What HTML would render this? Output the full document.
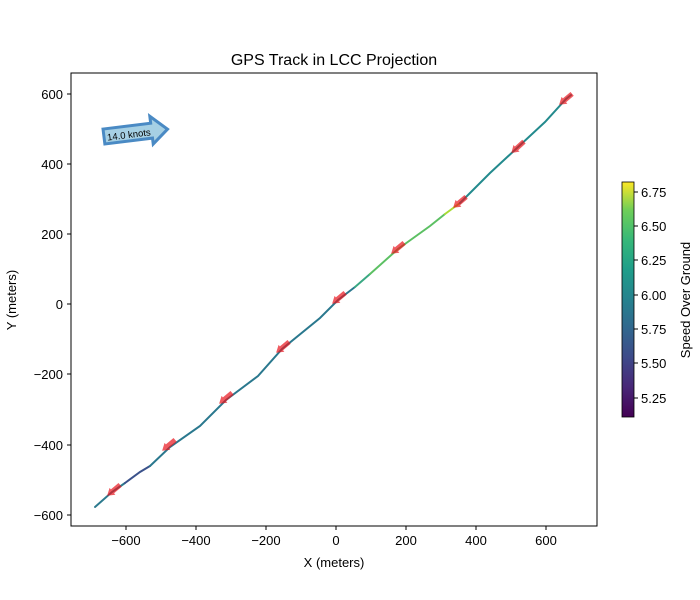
<!DOCTYPE html>
<html><head><style>body{margin:0;background:#fff}svg{display:block}text{font-family:"Liberation Sans","DejaVu Sans",sans-serif;fill:#000}</style></head><body>
<svg width="700" height="600" viewBox="0 0 700 600">
<defs><linearGradient id="vir" x1="0" y1="1" x2="0" y2="0">
<stop offset="0" stop-color="#440154"/><stop offset="0.13" stop-color="#482878"/><stop offset="0.25" stop-color="#3e4989"/><stop offset="0.38" stop-color="#31688e"/><stop offset="0.5" stop-color="#26828e"/><stop offset="0.63" stop-color="#1f9e89"/><stop offset="0.75" stop-color="#35b779"/><stop offset="0.88" stop-color="#6ece58"/><stop offset="1" stop-color="#fde725"/></linearGradient>
<polygon id="ar" points="-9,0 -2,-4.5 -2,-2.5 8,-2.5 8,2.5 -2,2.5 -2,4.5" fill="#e8141c" fill-opacity="0.7"/></defs>
<text x="334" y="65" font-size="16" text-anchor="middle">GPS Track in LCC Projection</text>
<rect x="71" y="73" width="526" height="453" fill="none" stroke="#000" stroke-width="1"/>
<g stroke="#000"><line x1="126" y1="526" x2="126" y2="530"/><line x1="196" y1="526" x2="196" y2="530"/><line x1="266" y1="526" x2="266" y2="530"/><line x1="336" y1="526" x2="336" y2="530"/><line x1="406" y1="526" x2="406" y2="530"/><line x1="476" y1="526" x2="476" y2="530"/><line x1="546" y1="526" x2="546" y2="530"/>
<line x1="67" y1="94" x2="71" y2="94"/><line x1="67" y1="164" x2="71" y2="164"/><line x1="67" y1="234" x2="71" y2="234"/><line x1="67" y1="304" x2="71" y2="304"/><line x1="67" y1="374" x2="71" y2="374"/><line x1="67" y1="445" x2="71" y2="445"/><line x1="67" y1="515" x2="71" y2="515"/></g>
<g font-size="13" text-anchor="middle"><text x="126" y="545">−600</text><text x="196" y="545">−400</text><text x="266" y="545">−200</text><text x="336" y="545">0</text><text x="406" y="545">200</text><text x="476" y="545">400</text><text x="546" y="545">600</text></g>
<g font-size="13" text-anchor="end"><text x="63" y="99">600</text><text x="63" y="169">400</text><text x="63" y="239">200</text><text x="63" y="309">0</text><text x="63" y="379">−200</text><text x="63" y="450">−400</text><text x="63" y="520">−600</text></g>
<text x="334" y="567" font-size="13" text-anchor="middle">X (meters)</text>
<text x="16" y="300" font-size="13" text-anchor="middle" transform="rotate(-90 16 300)">Y (meters)</text>
<g fill="none" stroke-width="2" stroke-linecap="round">
<polyline stroke="#2c7a8e" points="95,507 112,492 125,483"/>
<polyline stroke="#3b528b" points="125,483 140,472 150,466"/>
<polyline stroke="#2a788e" points="150,466 170,447 200,426 226,400 258,376 282,349 320,318 338,300 355,287"/>
<polyline stroke="#3aa883" points="355,287 370,274"/>
<polyline stroke="#5cc063" points="370,274 398,249 430,226 445,214"/>
<polyline stroke="#a8db34" points="445,214 460,203"/>
<polyline stroke="#238a8d" points="460,203 490,173 517,148 545,122 566,99 571,95"/>
</g>
<use href="#ar" transform="translate(114,490) rotate(-40)"/>
<use href="#ar" transform="translate(169,445) rotate(-40)"/>
<use href="#ar" transform="translate(226,398) rotate(-40)"/>
<use href="#ar" transform="translate(283,347) rotate(-40)"/>
<use href="#ar" transform="translate(339,298) rotate(-40)"/>
<use href="#ar" transform="translate(398,248) rotate(-40)"/>
<use href="#ar" transform="translate(460,202) rotate(-40)"/>
<use href="#ar" transform="translate(518,147) rotate(-42)"/>
<use href="#ar" transform="translate(566,99) rotate(-40)"/>
<g transform="translate(104,137) rotate(-7)">
<polygon points="0,-8 48,-8 48,-15 64,0 48,13 48,7 0,7" fill="#a6d0e4" stroke="#4a8ac4" stroke-width="3" stroke-linejoin="miter"/>
<text x="3" y="4" font-size="9.5">14.0 knots</text>
</g>
<rect x="622" y="182" width="12" height="235" fill="url(#vir)" stroke="#000" stroke-width="0.8"/>
<g stroke="#000"><line x1="634" y1="192" x2="638" y2="192"/><line x1="634" y1="226" x2="638" y2="226"/><line x1="634" y1="260" x2="638" y2="260"/><line x1="634" y1="295" x2="638" y2="295"/><line x1="634" y1="329" x2="638" y2="329"/><line x1="634" y1="363" x2="638" y2="363"/><line x1="634" y1="398" x2="638" y2="398"/></g>
<g font-size="13"><text x="641" y="197">6.75</text><text x="641" y="231">6.50</text><text x="641" y="265">6.25</text><text x="641" y="300">6.00</text><text x="641" y="334">5.75</text><text x="641" y="368">5.50</text><text x="641" y="403">5.25</text></g>
<text x="690" y="300" font-size="13" text-anchor="middle" transform="rotate(-90 690 300)">Speed Over Ground</text>
</svg>
</body></html>
